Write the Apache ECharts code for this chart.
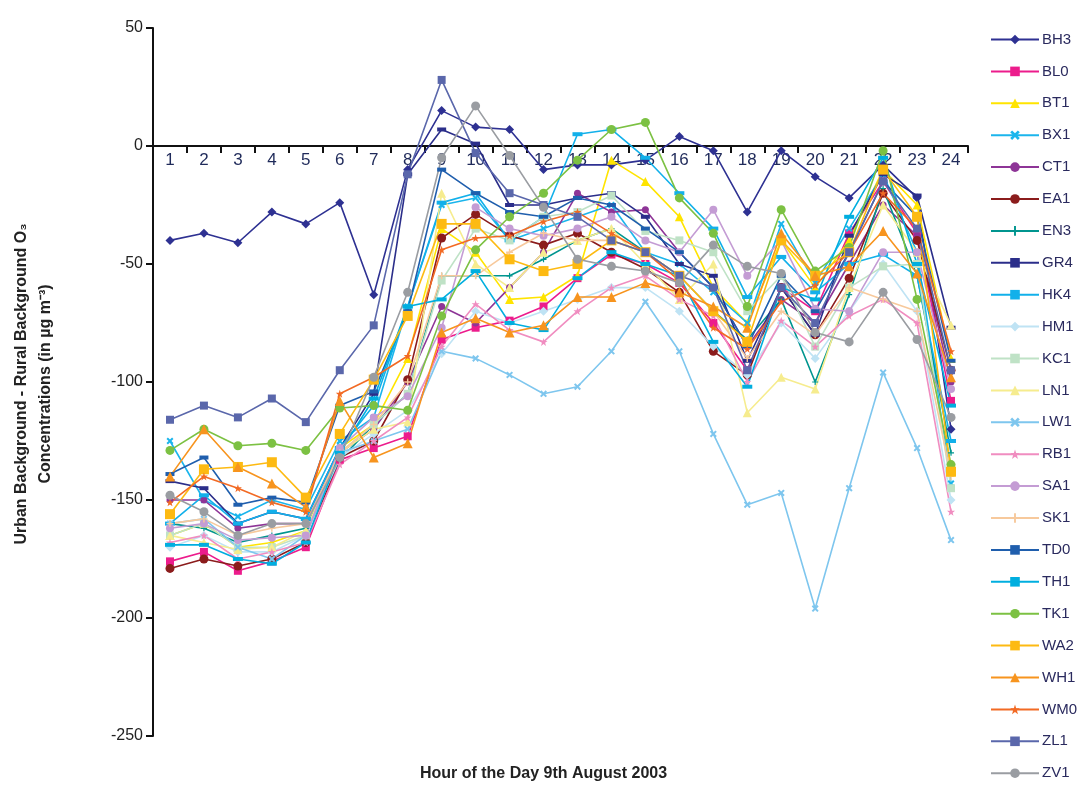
<!DOCTYPE html>
<html><head><meta charset="utf-8">
<script src="https://cdn.jsdelivr.net/npm/echarts@6/dist/echarts.min.js"></script>
<style>html,body{margin:0;padding:0;background:#fff}#c{width:1087px;height:789px}</style>
</head><body><div id="c"></div>
<script>
const hours = ['1','2','3','4','5','6','7','8','9','10','11','12','13','14','15','16','17','18','19','20','21','22','23','24'];
const yTicks = [50, 0, -50, -100, -150, -200, -250];

const BH3 = [-40,-37,-41,-28,-33,-24,-63,-10,15,8,7,-10,-8,-8,-6,4,-2,-28,-2,-13,-22,-8,-22,-120];
const BL0 = [-176,-172,-180,-176,-170,-133,-128,-123,-82,-77,-74,-68,-56,-46,-50,-58,-75,-95,-60,-70,-37,-15,-37,-108];
const BT1 = [-165,-160,-170,-168,-163,-128,-118,-90,-35,-45,-65,-64,-55,-6,-15,-30,-60,-75,-40,-60,-40,-10,-25,-90];
const BX1 = [-125,-150,-157,-150,-154,-125,-115,-68,-25,-22,-40,-35,-30,-25,-45,-50,-62,-75,-33,-58,-35,-12,-45,-143];
const CT1 = [-150,-150,-162,-160,-160,-130,-120,-100,-68,-75,-60,-45,-20,-28,-27,-45,-60,-85,-65,-75,-50,-25,-38,-100];
const EA1 = [-179,-175,-178,-175,-168,-132,-125,-99,-39,-29,-38,-42,-37,-45,-52,-62,-87,-97,-60,-80,-56,-20,-40,-95];
const EN3 = [-160,-162,-168,-165,-162,-133,-118,-105,-55,-55,-55,-48,-40,-35,-45,-55,-70,-82,-65,-100,-63,-18,-55,-130];
const GR4 = [-142,-145,-160,-155,-158,-128,-105,-12,7,1,-25,-25,-22,-20,-30,-50,-55,-91,-60,-80,-38,-12,-21,-77];
const HK4 = [-160,-148,-160,-155,-158,-128,-110,-68,-24,-20,-40,-30,5,7,-5,-20,-35,-64,-47,-62,-50,-46,-55,-125];
const HM1 = [-170,-165,-172,-172,-165,-132,-122,-112,-88,-70,-75,-70,-65,-60,-60,-70,-85,-97,-75,-90,-70,-50,-70,-150];
const KC1 = [-165,-160,-170,-170,-165,-130,-118,-105,-57,-35,-40,-30,-28,-21,-36,-40,-45,-70,-55,-85,-60,-51,-50,-145];
const LN1 = [-165,-168,-171,-170,-163,-130,-120,-117,-20,-50,-60,-45,-40,-35,-50,-65,-50,-113,-98,-103,-60,-25,-45,-76];
const LW1 = [-160,-158,-170,-175,-165,-130,-125,-120,-87,-90,-97,-105,-102,-87,-66,-87,-122,-152,-147,-196,-145,-96,-128,-167];
const RB1 = [-168,-165,-175,-172,-168,-135,-125,-115,-85,-67,-78,-83,-70,-60,-55,-65,-72,-100,-74,-85,-72,-65,-75,-155];
const SA1 = [-162,-160,-167,-166,-165,-128,-115,-106,-77,-26,-35,-38,-35,-30,-40,-45,-27,-55,-40,-69,-70,-45,-45,-103];
const SK1 = [-160,-158,-165,-162,-160,-130,-118,-100,-55,-55,-45,-37,-40,-40,-45,-55,-70,-90,-70,-80,-60,-65,-70,-140];
const TD0 = [-139,-132,-152,-149,-151,-110,-104,-70,-10,-20,-28,-30,-22,-25,-35,-45,-60,-85,-55,-70,-45,-15,-30,-91];
const TH1 = [-169,-169,-175,-177,-168,-130,-107,-68,-65,-53,-75,-78,-56,-45,-50,-55,-83,-102,-60,-65,-30,-5,-50,-110];
const TK1 = [-129,-120,-127,-126,-129,-111,-110,-112,-72,-44,-30,-20,-6,7,10,-22,-37,-68,-27,-53,-43,-2,-65,-135];
const WA2 = [-156,-137,-136,-134,-149,-122,-99,-72,-33,-33,-48,-53,-50,-40,-45,-55,-70,-83,-40,-55,-45,-10,-30,-138];
const WH1 = [-140,-120,-136,-143,-153,-108,-132,-126,-79,-73,-79,-76,-64,-64,-58,-62,-68,-77,-37,-55,-51,-36,-54,-98];
const WM0 = [-151,-140,-145,-151,-155,-105,-98,-89,-44,-39,-38,-32,-28,-37,-45,-57,-77,-86,-66,-59,-45,-20,-35,-87];
const ZL1 = [-116,-110,-115,-107,-117,-95,-76,-12,28,-3,-20,-25,-30,-40,-45,-55,-60,-95,-60,-75,-45,-15,-35,-95];
const ZV1 = [-148,-155,-165,-160,-160,-132,-98,-62,-5,17,-4,-26,-48,-51,-53,-58,-42,-51,-54,-79,-83,-62,-82,-115];

const XS = 'path://M2,0 L5,3 L8,0 L10,2 L7,5 L10,8 L8,10 L5,7 L2,10 L0,8 L3,5 L0,2 Z';
const PLUS = 'path://M4,0 H6 V4 H10 V6 H6 V10 H4 V6 H0 V4 H4 Z';
const STAR = 'path://M5,0 L6.2,3.6 L10,3.6 L7,5.9 L8.1,9.5 L5,7.3 L1.9,9.5 L3,5.9 L0,3.6 L3.8,3.6 Z';

const defs = [
  ['BH3', BH3, '#2E3192', 'diamond', 9],
  ['BL0', BL0, '#EC1C8C', 'rect', 8],
  ['BT1', BT1, '#FFE400', 'triangle', 9],
  ['BX1', BX1, '#1BB5EC', XS, 7],
  ['CT1', CT1, '#8E3597', 'circle', 7],
  ['EA1', EA1, '#8B1C1C', 'circle', 9],
  ['EN3', EN3, '#00958F', PLUS, 6],
  ['GR4', GR4, '#2B2E8A', 'rect', [9,4]],
  ['HK4', HK4, '#12B0EA', 'rect', [10,4]],
  ['HM1', HM1, '#BFE3F4', 'diamond', 9],
  ['KC1', KC1, '#BFE2C6', 'rect', 8],
  ['LN1', LN1, '#F6EC8E', 'triangle', 9],
  ['LW1', LW1, '#7EC6EE', XS, 7],
  ['RB1', RB1, '#F08DC0', STAR, 8],
  ['SA1', SA1, '#C49CD4', 'circle', 8],
  ['SK1', SK1, '#F7C99C', PLUS, 7],
  ['TD0', TD0, '#1F5EAD', 'rect', [9,4]],
  ['TH1', TH1, '#00AEDF', 'rect', [10,4]],
  ['TK1', TK1, '#7CC143', 'circle', 9],
  ['WA2', WA2, '#FDBA12', 'rect', 10],
  ['WH1', WH1, '#F7941E', 'triangle', 10],
  ['WM0', WM0, '#F26A24', STAR, 8],
  ['ZL1', ZL1, '#5A67AB', 'rect', 8],
  ['ZV1', ZV1, '#9A9DA2', 'circle', 9]
];

const series = defs.map(d => ({
  name: d[0], type: 'line', data: d[1], symbol: d[3], symbolSize: d[4],
  showSymbol: true, showAllSymbol: true,
  lineStyle: { color: d[2], width: 1.6 },
  itemStyle: { color: d[2] },
  emphasis: { disabled: true }
}));

const names = defs.map(d => d[0]);
const legendBase = {
  orient: 'vertical', left: 990, padding: 0, itemGap: 16.9, itemWidth: 48, itemHeight: 12,
  textStyle: { fontSize: 15, color: '#2a2a5e', fontFamily: 'Liberation Sans, Arial, sans-serif', padding: [0,0,0,-2] }
};

const chart = echarts.init(document.getElementById('c'), null, { renderer: 'canvas' });
chart.setOption({
  animation: false,
  backgroundColor: '#ffffff',
  textStyle: { fontFamily: 'Liberation Sans, Arial, sans-serif' },
  grid: { left: 153, right: 119, top: 28, bottom: 53, containLabel: false },
  legend: [
    Object.assign({}, legendBase, { top: 32, data: names.slice(0, 12) }),
    Object.assign({}, legendBase, { top: 32 + 12 * 31.9, data: names.slice(12) })
  ],
  xAxis: {
    type: 'category', data: hours, boundaryGap: true, position: 'bottom', offset: -590,
    axisLine: { onZero: false, lineStyle: { color: '#111', width: 2 } },
    axisTick: { show: true, length: 7, lineStyle: { color: '#111', width: 2 } },
    axisLabel: { fontSize: 17, color: '#1f2a5a', margin: 6, interval: 0 },
    splitLine: { show: false }
  },
  yAxis: {
    type: 'value', min: -250, max: 50, interval: 50,
    axisLine: { show: true, lineStyle: { color: '#111', width: 2 } },
    axisTick: { show: true, length: 7, lineStyle: { color: '#111', width: 2 } },
    axisLabel: { fontSize: 16, color: '#222', margin: 10, formatter: v => (yTicks.indexOf(v) >= 0 ? String(v) : '') },
    splitLine: { show: false }
  },
  graphic: [
    { type: 'text', left: 'center', top: 766, style: { text: 'Hour of the Day 9th August 2003', font: 'bold 16px Liberation Sans, Arial, sans-serif', fill: '#222' } },
    { type: 'text', x: 22, y: 384, rotation: Math.PI / 2, style: { text: 'Urban Background - Rural Background O₃', font: 'bold 16px Liberation Sans, Arial, sans-serif', fill: '#222', align: 'center', verticalAlign: 'middle' } },
    { type: 'text', x: 46, y: 384, rotation: Math.PI / 2, style: { text: 'Concentrations (in µg m⁻³)', font: 'bold 16px Liberation Sans, Arial, sans-serif', fill: '#222', align: 'center', verticalAlign: 'middle' } }
  ],
  series: series
});
</script></body></html>
